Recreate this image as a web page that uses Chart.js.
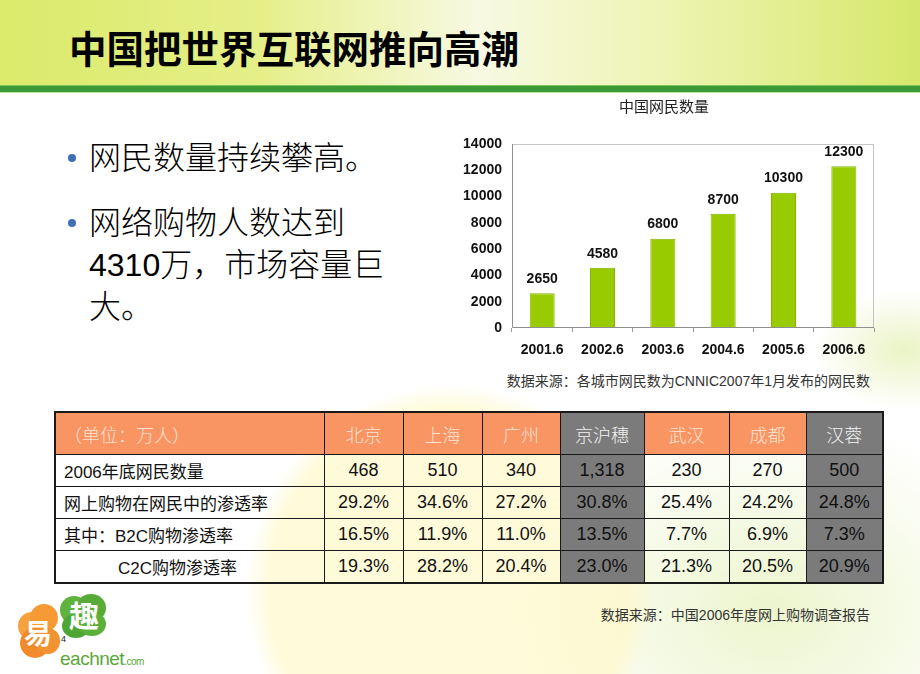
<!DOCTYPE html>
<html>
<head>
<meta charset="utf-8">
<script src="https://cdn.jsdelivr.net/npm/chart.js@4.4.1/dist/chart.umd.min.js"></script>
<style>
    html, body { margin: 0; padding: 0; }
    body {
        width: 920px; height: 674px; position: relative; overflow: hidden;
        font-family: "Liberation Sans", "Noto Sans CJK SC", sans-serif;
        background:
            radial-gradient(circle at 450px 590px, rgba(255,248,200,0.7) 0, rgba(255,248,200,0.7) 180px, rgba(255,248,200,0) 205px),
            radial-gradient(ellipse 260px 200px at 770px 610px, rgba(228,241,184,0.7), rgba(228,241,184,0) 100%),
            radial-gradient(ellipse 90px 60px at 905px 350px, rgba(232,242,190,0.9), rgba(232,242,190,0) 100%),
            #ffffff;
    }
    .band {
        position: absolute; left: 0; top: 0; width: 920px; height: 85px;
        background: linear-gradient(90deg, #dbea6a 0%, #e5ef88 28%, #f7f9e2 52%, #eef4b4 72%, #d6e86a 100%);
    }
    .rule {
        position: absolute; left: 0; top: 85px; width: 920px; height: 8px;
        background: #3c9a37; border-top: 1px solid #7cc55a; border-bottom: 1px solid #b9e4a0;
        box-sizing: border-box;
    }
    .title {
        position: absolute; left: 69px; top: 24px;
        font-family: "Noto Sans CJK SC", sans-serif; font-weight: 700;
        font-size: 37.5px; line-height: 46px; color: #000;
    }
    .bullets {
        position: absolute; left: 89px; top: 137px; margin: 0; padding: 0; list-style: none;
        font-size: 32px; line-height: 42px; color: #000; font-weight: 300;
    }
    .bullets li { position: relative; margin-bottom: 23px; }
    .bullets li::before {
        content: ""; position: absolute; left: -21px; top: 17px;
        width: 8px; height: 8px; border-radius: 50%; background: #3f6fb6;
    }
    #chartWrap { position: absolute; left: 440px; top: 92px; width: 450px; height: 272px; }
    .source {
        position: absolute; font-size: 14px; color: #333; white-space: nowrap; text-align: right;
    }
    table {
        position: absolute; left: 54px; top: 411px; width: 828px;
        border-collapse: collapse; table-layout: fixed;
        border: 2px solid #1a1a1a;
    }
    td {
        border: 1px solid #1a1a1a; padding: 0; text-align: center;
        font-size: 18px; color: #111; white-space: nowrap;
    }
    tr.head td {
        height: 41px; background: #f99463; color: #fde3d3;
        font-family: "Noto Sans CJK SC", sans-serif; font-size: 18px; font-weight: 300;
    }
    tr.data td { height: 31px; }
    td.label { text-align: left; padding-left: 8px; font-size: 17px; }
    td.grey { background: #7b7b7b !important; color: #101010; }
    tr.head td.grey { color: #f2f2f2; }
    .logo { position: absolute; left: 14px; top: 592px; width: 150px; height: 80px; }
    .petal { position: absolute; border-radius: 50%; }
    .logo .ch {
        position: absolute; color: #fff; font-family: "Noto Sans CJK SC", sans-serif;
        font-weight: 700;
    }
</style>
</head>
<body>
<div class="band"></div>
<div class="rule"></div>
<div class="title">中国把世界互联网推向高潮</div>

<ul class="bullets">
    <li>网民数量持续攀高。</li>
    <li>网络购物人数达到<br>4310万，市场容量巨<br>大。</li>
</ul>

<div id="chartWrap"><canvas id="chart"></canvas></div>
<div class="source" style="right:50px; top:370px;">数据来源：各城市网民数为CNNIC2007年1月发布的网民数</div>

<table id="cityTable"></table>
<div class="source" style="right:50px; top:604px;">数据来源：中国2006年度网上购物调查报告</div>

<div class="logo">
    <div class="petal" style="left:4px; top:20px; width:28px; height:28px; background:#f6a23c;"></div>
    <div class="petal" style="left:16px; top:12px; width:28px; height:28px; background:#f59a34;"></div>
    <div class="petal" style="left:6px; top:36px; width:30px; height:30px; background:#f08a2a;"></div>
    <div class="petal" style="left:22px; top:36px; width:24px; height:26px; background:#f39230;"></div>
    <div class="petal" style="left:46px; top:4px; width:28px; height:28px; background:#5fb33e;"></div>
    <div class="petal" style="left:62px; top:2px; width:30px; height:28px; background:#58ab38;"></div>
    <div class="petal" style="left:48px; top:22px; width:28px; height:24px; background:#4ea534;"></div>
    <div class="petal" style="left:64px; top:20px; width:28px; height:24px; background:#5bb03b;"></div>
    <div class="ch" style="left:10px; top:24px; font-size:28px; line-height:32px;">易</div>
    <div class="ch" style="left:55px; top:5px; font-size:30px; line-height:34px;">趣</div>
    <div style="position:absolute; left:46px; top:56px; font-size:19px; color:#5aa83a; letter-spacing:-0.5px;">eachnet<span style="font-size:10px;">.com</span></div>
    <div style="position:absolute; left:47px; top:42px; font-size:9px; color:#222;">4</div>
</div>

<script>
// chart: 中国网民数量 (万人)
const periods = ["2001.6", "2002.6", "2003.6", "2004.6", "2005.6", "2006.6"];
const netizens = [2650, 4580, 6800, 8700, 10300, 12300];
const yTicks = [0, 2000, 4000, 6000, 8000, 10000, 12000, 14000];

// table: 各城市网上购物
const tableUnit = "（单位：万人）";
const cities = ["北京", "上海", "广州", "京沪穗", "武汉", "成都", "汉蓉"];
const greyCities = ["京沪穗", "汉蓉"];
const rowLabels = ["2006年底网民数量", "网上购物在网民中的渗透率", "其中：B2C购物渗透率", "C2C购物渗透率"];
const netizens2006 = ["468", "510", "340", "1,318", "230", "270", "500"];
const shoppingRate = ["29.2%", "34.6%", "27.2%", "30.8%", "25.4%", "24.2%", "24.8%"];
const b2cRate = ["16.5%", "11.9%", "11.0%", "13.5%", "7.7%", "6.9%", "7.3%"];
const c2cRate = ["19.3%", "28.2%", "20.4%", "23.0%", "21.3%", "20.5%", "20.9%"];

const BAR_COLOR = "#99cc00";
const LABEL_FONT = { family: "'Liberation Sans', Arial, sans-serif", size: 14, weight: "bold" };

function buildTable() {
    const table = document.getElementById("cityTable");
    const widths = [269, 79, 79, 78, 84, 85, 77, 77];
    let html = "<colgroup>" + widths.map((w) => `<col style="width:${w}px">`).join("") + "</colgroup>";
    html += `<tr class="head"><td class="label">${tableUnit}</td>`;
    for (const city of cities) {
        const cls = greyCities.includes(city) ? "grey" : "";
        html += `<td class="${cls}">${city}</td>`;
    }
    html += "</tr>";
    const rows = [netizens2006, shoppingRate, b2cRate, c2cRate];
    rows.forEach((values, r) => {
        const indent = r === 3 ? ' style="padding-left:62px"' : "";
        html += `<tr class="data"><td class="label"${indent}>${rowLabels[r]}</td>`;
        values.forEach((v, i) => {
            const cls = greyCities.includes(cities[i]) ? "grey" : "";
            html += `<td class="${cls}">${v}</td>`;
        });
        html += "</tr>";
    });
    table.innerHTML = html;
}

const plotFrame = {
    id: "plotFrame",
    afterDraw(chart) {
        const { ctx, chartArea: a } = chart;
        ctx.save();
        ctx.lineWidth = 1;
        ctx.strokeStyle = "#c4c4c4";
        ctx.beginPath();
        ctx.moveTo(a.left, a.top + 0.5);
        ctx.lineTo(a.right - 0.5, a.top + 0.5);
        ctx.lineTo(a.right - 0.5, a.bottom);
        ctx.stroke();
        ctx.strokeStyle = "#8f8f8f";
        ctx.beginPath();
        ctx.moveTo(a.left + 0.5, a.top);
        ctx.lineTo(a.left + 0.5, a.bottom - 0.5);
        ctx.lineTo(a.right, a.bottom - 0.5);
        ctx.stroke();
        ctx.restore();
    },
};

const valueLabels = {
    id: "valueLabels",
    afterDatasetsDraw(chart) {
        const { ctx } = chart;
        const meta = chart.getDatasetMeta(0);
        ctx.save();
        ctx.font = `${LABEL_FONT.weight} ${LABEL_FONT.size}px ${LABEL_FONT.family}`;
        ctx.fillStyle = "#111";
        ctx.textAlign = "center";
        ctx.textBaseline = "middle";
        meta.data.forEach((bar, i) => {
            ctx.fillText(String(netizens[i]), bar.x, bar.y - 14);
        });
        ctx.restore();
    },
};

function renderChart() {
    new Chart(document.getElementById("chart"), {
        type: "bar",
        data: {
            labels: periods,
            datasets: [{
                data: netizens,
                backgroundColor: BAR_COLOR,
                borderColor: "#86b300",
                borderWidth: 1,
                categoryPercentage: 1,
                barPercentage: 0.415,
            }],
        },
        options: {
            responsive: false,
            animation: false,
            layout: { padding: { left: 14, right: 16, top: 0, bottom: 0 } },
            plugins: {
                legend: { display: false },
                tooltip: { enabled: false },
                title: {
                    display: true,
                    text: "中国网民数量",
                    color: "#222",
                    font: { family: "'Noto Sans CJK SC', sans-serif", size: 15, weight: "normal" },
                    padding: { top: 5, bottom: 29 },
                },
            },
            scales: {
                x: {
                    grid: { display: true, drawOnChartArea: false, drawTicks: true, tickLength: 4, color: "#9a9a9a", offset: true },
                    border: { display: false },
                    ticks: { color: "#111", font: LABEL_FONT, padding: 10, maxRotation: 0 },
                    afterFit(scale) { scale.height = 36; },
                },
                y: {
                    min: 0,
                    max: 14000,
                    grid: { display: false, drawTicks: false },
                    border: { display: false },
                    afterBuildTicks(scale) { scale.ticks = yTicks.map((v) => ({ value: v })); },
                    ticks: {
                        color: "#111",
                        font: LABEL_FONT,
                        padding: 10,
                        callback: (value) => String(value),
                    },
                    afterFit(scale) { scale.width = 58; },
                },
            },
        },
        plugins: [plotFrame, valueLabels],
    });
}

const canvas = document.getElementById("chart");
canvas.width = 450;
canvas.height = 272;
canvas.style.width = "450px";
canvas.style.height = "272px";
buildTable();
renderChart();
</script>
</body>
</html>
